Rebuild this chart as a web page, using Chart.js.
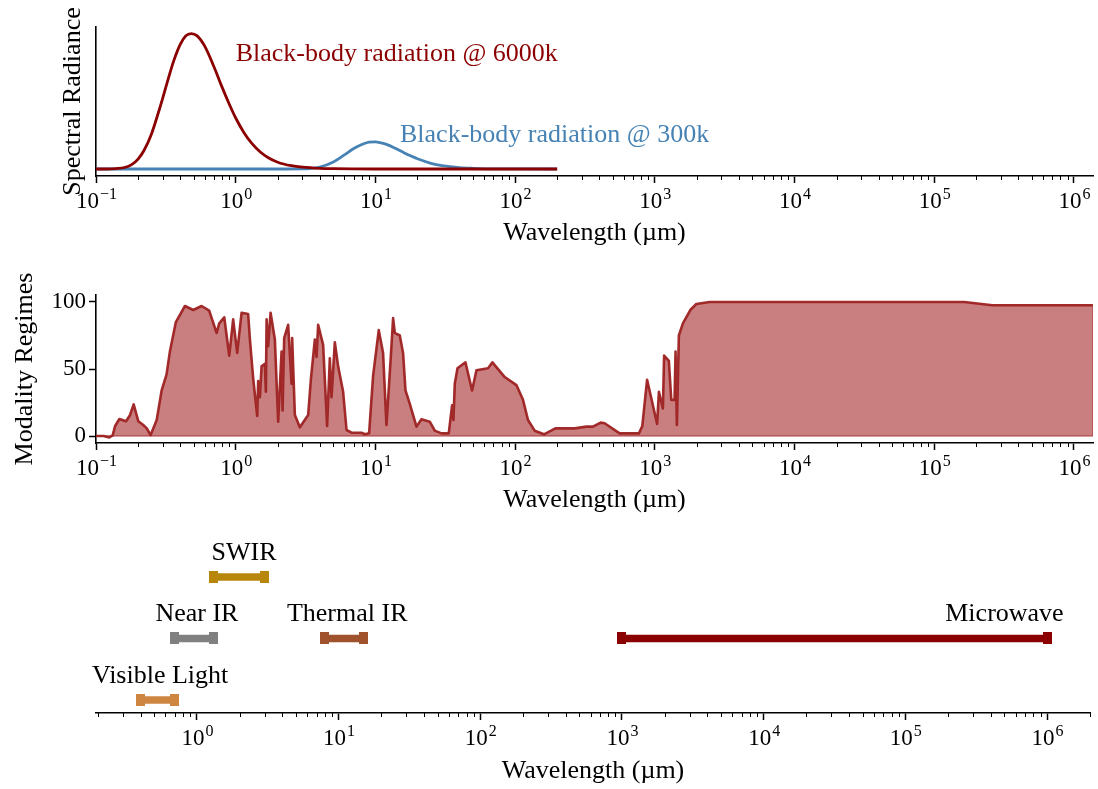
<!DOCTYPE html>
<html>
<head>
<meta charset="utf-8">
<script src="https://cdn.jsdelivr.net/npm/chart.js@4.4.1/dist/chart.umd.min.js"></script>
<style>
  html, body { margin: 0; padding: 0; background: #fff; }
  body { width: 1098px; height: 789px; position: relative; overflow: hidden; }
  .panel { position: absolute; left: 0; width: 1098px; }
  #radianceWrap { top: 0; height: 250px; }
  #modalityWrap { top: 250px; height: 270px; }
  #bandsWrap { top: 520px; height: 269px; }
</style>
</head>
<body>
<div class="panel" id="radianceWrap"><canvas id="radianceChart"></canvas></div>
<div class="panel" id="modalityWrap"><canvas id="modalityChart"></canvas></div>
<div class="panel" id="bandsWrap"><canvas id="bandsChart"></canvas></div>
<script>
// black-body curves (normalised)
const sunWavelength = [0.1, 0.12, 0.14, 0.16, 0.18, 0.2, 0.22, 0.25, 0.28, 0.3, 0.33, 0.36, 0.4, 0.44, 0.48, 0.53, 0.6, 0.7, 0.8, 0.9, 1.0, 1.15, 1.3, 1.5, 1.7, 2.0, 2.5, 3, 4, 5, 7, 10, 20, 50, 100, 200];
const sunRadiance = [0, 0, 0.003, 0.011, 0.032, 0.073, 0.134, 0.26, 0.417, 0.52, 0.668, 0.795, 0.915, 0.98, 0.996, 0.979, 0.903, 0.75, 0.6, 0.476, 0.375, 0.265, 0.19, 0.125, 0.085, 0.05, 0.024, 0.013, 0.0045, 0.002, 0.0005, 0, 0, 0, 0, 0];
const earthWavelength = [0.1, 1, 2, 3, 4, 5, 6, 7, 8, 9, 10, 11, 12, 14, 16, 18, 20, 25, 30, 40, 50, 70, 100, 200];
const earthRadiance = [0, 0, 0, 0.001, 0.0145, 0.052, 0.104, 0.151, 0.18, 0.198, 0.2, 0.192, 0.181, 0.15, 0.12, 0.095, 0.075, 0.042, 0.025, 0.01, 0.005, 0.0015, 0.0005, 0];

// modality regimes curve
const modalityWavelength = [0.1, 0.113, 0.1245, 0.1316, 0.137, 0.147, 0.164, 0.175, 0.186, 0.201, 0.218, 0.231, 0.246, 0.272, 0.295, 0.32, 0.338, 0.373, 0.433, 0.497, 0.57, 0.646, 0.73, 0.762, 0.828, 0.899, 0.959, 1.025, 1.102, 1.228, 1.264, 1.334, 1.425, 1.449, 1.49, 1.532, 1.618, 1.644, 1.664, 1.708, 1.777, 1.907, 2.014, 2.13, 2.165, 2.223, 2.374, 2.51, 2.536, 2.652, 2.879, 3.301, 3.451, 3.686, 3.791, 3.892, 4.226, 4.512, 4.718, 4.853, 5.124, 5.41, 5.875, 6.215, 6.745, 7.955, 8.4, 9.015, 9.63, 10.57, 11.35, 12.0, 12.89, 13.39, 13.77, 14.95, 15.78, 16.42, 17.63, 19.68, 21.37, 24.5, 26.6, 29.7, 33.5, 35.4, 36.2, 37.0, 38.7, 44.1, 49.2, 52.9, 64.0, 68.8, 84.3, 102.2, 113.9, 123.7, 138.1, 160.9, 194.2, 266.9, 323.6, 360.8, 409.6, 437.5, 560.1, 769.6, 814, 880.9, 1039, 1070, 1143, 1166, 1261, 1312, 1385, 1408, 1439, 1487, 1589, 1795, 1982, 2466, 164400, 260800, 1368000];
const modalityValue = [0, 0, -1, 0.5, 7.5, 12.7, 11, 15.5, 23.6, 11, 8.2, 5.7, 0.7, 12, 34, 46, 63, 85, 97, 94, 97, 93.5, 77, 84, 88.6, 60, 87, 62, 92, 91, 72, 43, 15, 41, 29, 52, 54, 33, 87, 67, 92, 72, 10.7, 63, 19, 73, 83, 39, 73, 15.7, 6.5, 15.7, 42, 72, 59, 83, 68, 7.5, 58, 29, 70, 52, 33, 4.5, 2.5, 2.5, 1.3, 2, 45, 79, 62, 8.2, 59, 88, 77, 75, 62, 34, 24, 7, 12.5, 10.7, 4, 2, 2, 23, 12, 39, 50.5, 55, 34, 49, 50.5, 55, 44, 38, 27, 12, 4, 1.3, 5.7, 5.7, 7, 7, 10, 9.5, 2, 2, 7.5, 42, 9, 33, 20.5, 60, 56, 27, 27, 63, 8.2, 75, 84, 94, 98.5, 100, 100, 97.5, 97.5];
const modalityTicks = [0, 50, 100];

// spectral bands
const bandNames = ['Visible Light', 'Near IR', 'SWIR', 'Thermal IR', 'Microwave'];
const bandStart = [0.4, 0.7, 1.3, 8, 1000];
const bandEnd = [0.7, 1.3, 3, 15, 1e6];
const bandLevel = [1, 2, 3, 2, 2];
const bandColors = ['#CD853F', '#808080', '#B8860B', '#A0522D', '#8B0000'];

// log axis decades: base "10" with these exponents
const majorTicks = [0.1, 1, 10, 100, 1000, 1e4, 1e5, 1e6];
const majorTickExponents = ['\u22121', '0', '1', '2', '3', '4', '5', '6'];

const FONT = "'Liberation Serif', 'DejaVu Serif', serif";
Chart.defaults.font.family = FONT;
Chart.defaults.color = '#000';
Chart.defaults.animation = false;

const TICK_FONT = 23;
const EXP_FONT = 16;
const LABEL_FONT = 26;

function toPoints(xs, ys) {
    return xs.map((x, i) => ({ x: x, y: ys[i] }));
}

function majorIndex(v) {
    return majorTicks.findIndex(t => Math.abs(t - v) / t < 1e-6);
}

function logTicks(min, max) {
    const out = [];
    for (let k = -2; k <= 7; k++) {
        for (let m = 1; m <= 9; m++) {
            const v = m * Math.pow(10, k);
            if (v >= min * 0.9999 && v <= max * 1.0001) out.push({ value: v });
        }
    }
    return out;
}

function wavelengthAxis(min, max, axisHeight, titlePad) {
    return {
        type: 'logarithmic',
        min: min,
        max: max,
        afterBuildTicks: function (scale) { scale.ticks = logTicks(min, max); },
        afterFit: function (scale) { scale.height = axisHeight; },
        ticks: {
            autoSkip: false,
            maxRotation: 0,
            callback: function () { return ''; }
        },
        grid: {
            drawOnChartArea: false,
            tickLength: 7,
            tickWidth: 1.5,
            tickColor: function (ctx) {
                return ctx.tick && majorIndex(ctx.tick.value) >= 0 ? '#000' : 'rgba(0,0,0,0)';
            }
        },
        border: { color: '#000', width: 1.6 },
        title: {
            display: true,
            text: 'Wavelength (µm)',
            font: { size: LABEL_FONT },
            padding: { top: 0, bottom: titlePad }
        }
    };
}

// short minor ticks and 10^n labels under the log axes
const logAxisPlugin = {
    id: 'logAxis',
    afterDraw(chart) {
        const s = chart.scales.x;
        const ctx = chart.ctx;
        ctx.save();
        ctx.strokeStyle = '#000';
        ctx.fillStyle = '#000';
        ctx.lineWidth = 1;
        s.ticks.forEach(t => {
            const i = majorIndex(t.value);
            const px = s.getPixelForValue(t.value);
            if (i < 0) {
                const x = Math.round(px) + 0.5;
                ctx.beginPath();
                ctx.moveTo(x, s.top);
                ctx.lineTo(x, s.top + 4);
                ctx.stroke();
                return;
            }
            const base = '10', exp = majorTickExponents[i];
            ctx.font = TICK_FONT + 'px ' + FONT;
            const wb = ctx.measureText(base).width;
            ctx.font = EXP_FONT + 'px ' + FONT;
            const we = ctx.measureText(exp).width;
            const left = px - (wb + we) / 2;
            const baseline = s.top + 32;
            ctx.textAlign = 'left';
            ctx.textBaseline = 'alphabetic';
            ctx.font = TICK_FONT + 'px ' + FONT;
            ctx.fillText(base, left, baseline);
            ctx.font = EXP_FONT + 'px ' + FONT;
            ctx.fillText(exp, left + wb + 1, baseline - 9);
        });
        ctx.restore();
    }
};

const curveLabelsPlugin = {
    id: 'curveLabels',
    afterDatasetsDraw(chart) {
        const ctx = chart.ctx;
        const xs = chart.scales.x, ys = chart.scales.y;
        ctx.save();
        ctx.font = LABEL_FONT + 'px ' + FONT;
        ctx.textAlign = 'left';
        ctx.textBaseline = 'middle';
        ctx.fillStyle = '#8B0000';
        ctx.fillText('Black-body radiation @ 6000k', xs.getPixelForValue(1.0), ys.getPixelForValue(0.845));
        ctx.fillStyle = '#4682B4';
        ctx.fillText('Black-body radiation @ 300k', xs.getPixelForValue(15), ys.getPixelForValue(0.25));
        ctx.restore();
    }
};

const bandLabelsPlugin = {
    id: 'bandLabels',
    afterDatasetsDraw(chart) {
        const ctx = chart.ctx;
        const xs = chart.scales.x, ys = chart.scales.y;
        ctx.save();
        ctx.font = LABEL_FONT + 'px ' + FONT;
        ctx.textAlign = 'center';
        ctx.textBaseline = 'middle';
        ctx.fillStyle = '#000';
        bandNames.forEach((name, i) => {
            const mid = (bandStart[i] + bandEnd[i]) / 2;
            ctx.fillText(name, xs.getPixelForValue(mid), ys.getPixelForValue(bandLevel[i]) - 24);
        });
        ctx.restore();
    }
};

function capImage(color) {
    const c = document.createElement('canvas');
    c.width = 9;
    c.height = 12;
    const g = c.getContext('2d');
    g.fillStyle = color;
    g.fillRect(0, 0, 9, 12);
    return c;
}

// top: black-body radiation
new Chart(document.getElementById('radianceChart'), {
    type: 'line',
    data: {
        datasets: [{
            label: '6000k',
            data: toPoints(sunWavelength, sunRadiance),
            borderColor: '#8B0000',
            borderWidth: 2.8,
            pointRadius: 0,
            cubicInterpolationMode: 'monotone',
            fill: false
        }, {
            label: '300k',
            data: toPoints(earthWavelength, earthRadiance),
            borderColor: '#4682B4',
            borderWidth: 2.8,
            pointRadius: 0,
            cubicInterpolationMode: 'monotone',
            fill: false
        }]
    },
    options: {
        responsive: true,
        maintainAspectRatio: false,
        layout: { autoPadding: false, padding: { top: 27, right: 5, bottom: 0, left: 0 } },
        plugins: { legend: { display: false }, tooltip: { enabled: false } },
        scales: {
            x: wavelengthAxis(0.1, 1.37e6, 74, 1),
            y: {
                min: -0.0515,
                max: 1.044,
                afterFit: function (scale) { scale.width = 96; },
                ticks: { display: false },
                grid: { display: false },
                border: { color: '#000', width: 1.6 },
                title: {
                    display: true,
                    text: 'Spectral Radiance',
                    font: { size: LABEL_FONT },
                    padding: { top: 58, bottom: 0 }
                }
            }
        }
    },
    plugins: [logAxisPlugin, curveLabelsPlugin]
});

// middle: modality regimes
const lastIdx = modalityWavelength.length - 1;
new Chart(document.getElementById('modalityChart'), {
    type: 'line',
    data: {
        datasets: [{
            label: 'Modality Regimes',
            data: toPoints(modalityWavelength, modalityValue),
            borderColor: 'rgba(158,34,34,0.95)',
            backgroundColor: 'rgba(165,42,42,0.6)',
            borderWidth: 2.6,
            borderJoinStyle: 'round',
            pointRadius: 0,
            tension: 0,
            fill: { value: 0 }
        }, {
            // outline of the filled region (bottom and right edges)
            label: 'edge',
            data: [
                { x: modalityWavelength[0], y: 0 },
                { x: modalityWavelength[lastIdx], y: 0 },
                { x: modalityWavelength[lastIdx], y: modalityValue[lastIdx] }
            ],
            borderColor: 'rgba(165,42,42,0.6)',
            borderWidth: 1.5,
            pointRadius: 0,
            fill: false
        }]
    },
    options: {
        responsive: true,
        maintainAspectRatio: false,
        layout: { autoPadding: false, padding: { top: 45, right: 5, bottom: 0, left: 0 } },
        plugins: { legend: { display: false }, tooltip: { enabled: false } },
        scales: {
            x: wavelengthAxis(0.1, 1.37e6, 77, 4),
            y: {
                min: -5.2,
                max: 105.2,
                afterBuildTicks: function (scale) { scale.ticks = modalityTicks.map(v => ({ value: v })); },
                afterFit: function (scale) { scale.width = 96; },
                ticks: { font: { size: TICK_FONT }, padding: 3 },
                grid: { drawOnChartArea: false, tickLength: 7, tickWidth: 1.5, tickColor: '#000' },
                border: { color: '#000', width: 1.6 },
                title: {
                    display: true,
                    text: 'Modality Regimes',
                    font: { size: LABEL_FONT },
                    padding: { top: 10, bottom: 0 }
                }
            }
        }
    },
    plugins: [logAxisPlugin]
});

// bottom: spectral bands
new Chart(document.getElementById('bandsChart'), {
    type: 'line',
    data: {
        datasets: bandNames.map((name, i) => ({
            label: name,
            data: [{ x: bandStart[i], y: bandLevel[i] }, { x: bandEnd[i], y: bandLevel[i] }],
            borderColor: bandColors[i],
            borderWidth: 7.5,
            borderCapStyle: 'butt',
            pointStyle: capImage(bandColors[i]),
            pointRadius: 6,
            fill: false
        }))
    },
    options: {
        responsive: true,
        maintainAspectRatio: false,
        layout: { autoPadding: false, padding: { top: 20, right: 8, bottom: 0, left: 96 } },
        plugins: { legend: { display: false }, tooltip: { enabled: false } },
        scales: {
            x: wavelengthAxis(0.194, 2.01e6, 76, 2),
            y: { display: false, min: 0.789, max: 3.6 }
        }
    },
    plugins: [logAxisPlugin, bandLabelsPlugin]
});
</script>
</body>
</html>
